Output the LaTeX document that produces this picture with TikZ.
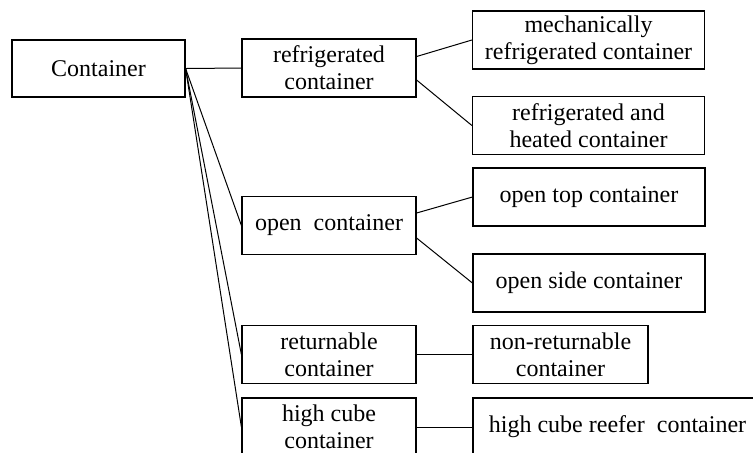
\documentclass[tikz,border=0pt]{standalone}
\usepackage{fontspec}
\setmainfont{Liberation Serif}
\begin{document}
\begin{tikzpicture}[x=0.5pt,y=-0.5pt,
    box/.style={draw, line width=0.6pt, align=center, inner sep=0pt,
      minimum height=29pt, font=\fontsize{12}{13.5}\selectfont},
    mid/.style={box, minimum width=87pt},
    leaf/.style={box, minimum width=116pt}]
  \path[use as bounding box, clip] (0,0) rectangle (753,452);
  % root
  \node[box, minimum width=86.5pt, minimum height=28.5pt] (cont) at (98.5,68.5) {Container};
  % first level
  \node[mid] (refr) at (329,68) {refrigerated\\container};
  \node[mid] (open) at (329,225.5) {open\ \ container};
  \node[mid] (ret) at (329,354.5) {returnable\\container};
  \node[mid] (hcube) at (329,427) {high cube\\container};
  % second level
  \node[leaf] (mech) at (588.5,40) {mechanically\\refrigerated container};
  \node[leaf] (refheat) at (588.5,125.5) {refrigerated and\\heated container};
  \node[leaf] (opentop) at (589,197) {open top container};
  \node[leaf] (openside) at (589,283) {open side container};
  \node[box, minimum width=87.5pt] (nonret) at (560.5,354.5) {non-returnable\\container};
  \node[box, minimum width=144.5pt] (hcreefer) at (617.5,427) {high cube reefer\ \ container};
  % connectors
  \draw[line width=0.5pt] (cont.east) -- (refr.west);
  \draw[line width=0.5pt] (cont.east) -- (open.west);
  \draw[line width=0.5pt] (cont.east) -- (ret.west);
  \draw[line width=0.5pt] (cont.east) -- (hcube.west);
  \draw[line width=0.5pt] ([yshift=5.75pt]refr.east) -- (mech.west);
  \draw[line width=0.5pt] ([yshift=-6pt]refr.east) -- (refheat.west);
  \draw[line width=0.5pt] ([yshift=6.25pt]open.east) -- (opentop.west);
  \draw[line width=0.5pt] ([yshift=-6.25pt]open.east) -- (openside.west);
  \draw[line width=0.5pt] (ret.east) -- (nonret.west);
  \draw[line width=0.5pt] (hcube.east) -- (hcreefer.west);
\end{tikzpicture}
\end{document}
